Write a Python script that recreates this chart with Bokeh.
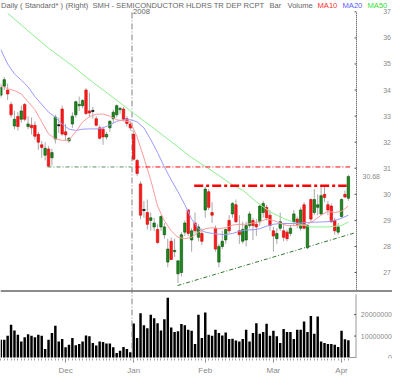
from bokeh.plotting import figure
from bokeh.models import Range1d, FixedTicker
from bokeh.embed import file_html
from bokeh.resources import INLINE
from bokeh.core.properties import value

# ---------------- data ----------------
month_ticks = [19, 39, 60, 80, 100]
month_labels = ["Dec", "Jan", "Feb", "Mar", "Apr"]
year_label = "2008"
year_tick = 38.5
price_ticks = [27, 28, 29, 30, 31, 32, 33, 34, 35, 36, 37]
volume_ticks = [0, 10000000, 20000000]

title_parts = ["Daily ( Standard* )", "(Right)", "SMH - SEMICONDUCTOR HLDRS TR DEP RCPT",
               "Bar", "Volume", "MA10", "MA20", "MA50"]

opens = [33.80, 34.15, 34.00, 33.45, 32.62, 32.99, 32.88, 33.45, 32.60, 32.65,
         32.65, 32.30, 31.90, 31.50, 31.74, 31.40, 32.12, 32.65, 33.27, 32.40,
         32.05, 32.70, 33.05, 33.40, 33.40, 34.00, 33.20, 33.20, 32.90, 32.55,
         32.50, 32.20, 32.55, 32.90, 33.05, 33.25, 33.27, 32.90, 32.70, 32.30,
         31.30, 30.40, 29.40, 29.30, 29.00, 28.75, 28.65, 28.75, 28.45, 27.40,
         28.20, 27.80, 26.95, 27.00, 28.55, 29.40, 28.25, 28.90, 28.35, 28.50,
         29.40, 30.10, 29.30, 28.70, 27.40, 28.00, 28.25, 29.00, 29.25, 29.60,
         28.60, 28.20, 28.25, 28.80, 29.00, 28.85, 28.95, 29.30, 29.50, 29.20,
         28.60, 28.30, 28.70, 28.60, 28.55, 28.50, 28.95, 29.05, 28.70, 29.60,
         27.95, 29.80, 29.30, 29.50, 29.25, 30.00, 29.60, 29.55, 29.00, 28.55,
         29.15, 30.00, 29.85]
highs = [34.25, 34.50, 34.25, 33.55, 33.20, 33.15, 33.40, 33.50, 33.00, 32.95,
         32.80, 32.40, 32.05, 32.00, 31.85, 31.75, 33.05, 32.95, 33.40, 32.70,
         32.20, 33.15, 33.60, 33.75, 33.65, 34.07, 33.90, 33.35, 33.00, 32.65,
         32.60, 32.40, 32.85, 33.25, 33.45, 33.35, 33.35, 33.00, 32.80, 32.45,
         31.36, 30.50, 29.75, 29.80, 29.30, 29.10, 28.85, 29.20, 28.90, 28.30,
         28.35, 28.30, 27.45, 28.55, 29.00, 29.45, 28.70, 29.30, 28.85, 28.70,
         30.30, 30.20, 29.70, 28.80, 28.10, 28.60, 28.70, 29.20, 29.70, 29.80,
         29.20, 28.95, 28.95, 29.35, 29.10, 29.05, 29.60, 29.75, 29.60, 29.40,
         28.75, 28.70, 29.30, 28.90, 28.65, 28.80, 29.40, 29.15, 29.50, 29.70,
         28.85, 29.85, 30.20, 30.00, 30.35, 30.30, 29.75, 29.65, 29.10, 28.90,
         29.85, 30.15, 30.75]
lows = [33.70, 34.00, 33.62, 32.95, 32.50, 32.45, 32.75, 32.80, 32.50, 32.30,
        32.10, 31.70, 31.40, 31.30, 31.05, 31.10, 31.95, 32.35, 32.25, 32.05,
        31.98, 32.55, 32.95, 33.20, 33.30, 33.05, 32.95, 32.90, 32.60, 32.10,
        31.90, 32.10, 32.40, 32.75, 32.95, 33.10, 32.80, 32.60, 32.45, 31.30,
        30.70, 29.05, 29.10, 28.65, 28.60, 28.60, 28.10, 28.60, 28.30, 27.20,
        27.50, 27.60, 26.60, 26.85, 28.40, 28.40, 27.80, 28.50, 28.20, 28.05,
        29.10, 29.40, 28.90, 27.80, 27.20, 27.90, 28.10, 28.50, 29.10, 28.90,
        28.10, 28.10, 28.00, 28.70, 28.25, 28.40, 28.80, 29.10, 29.00, 28.60,
        27.80, 28.10, 28.60, 28.20, 28.20, 28.40, 28.80, 28.70, 28.60, 28.65,
        27.90, 28.90, 29.20, 29.20, 29.20, 29.70, 29.20, 28.90, 28.45, 28.45,
        29.10, 29.85, 29.75]
closes = [34.10, 34.40, 33.85, 33.05, 32.88, 32.60, 33.20, 32.88, 32.70, 32.55,
          32.23, 32.00, 31.80, 31.77, 31.08, 31.60, 32.96, 32.65, 32.31, 32.28,
          32.15, 33.00, 33.55, 33.45, 33.60, 33.10, 33.12, 33.20, 32.65, 32.15,
          32.20, 32.30, 32.80, 33.15, 33.40, 33.30, 32.88, 32.72, 32.55, 31.35,
          30.80, 29.20, 29.40, 28.85, 29.10, 28.90, 28.15, 29.15, 28.75, 27.90,
          27.50, 27.85, 27.45, 28.45, 28.90, 28.50, 28.60, 28.60, 28.75, 28.20,
          30.20, 29.50, 29.20, 27.90, 28.00, 28.20, 28.65, 28.60, 29.65, 28.95,
          28.45, 28.65, 28.80, 29.25, 28.80, 28.75, 29.55, 29.65, 29.10, 28.80,
          28.40, 28.50, 28.95, 28.35, 28.30, 28.70, 29.25, 28.85, 29.40, 28.70,
          28.80, 29.05, 29.80, 29.60, 29.95, 29.88, 29.40, 28.95, 28.60, 28.75,
          29.80, 29.90, 30.68]
volumes_m = [8.3, 8.3, 10.2, 15.3, 12.6, 10.6, 7.5, 9.5, 10.9, 10.2,
             9.4, 10.6, 10.2, 4.0, 8.3, 11.4, 14.8, 7.5, 8.6, 4.8,
             6.0, 9.1, 5.7, 6.3, 7.5, 10.3, 9.9, 6.8, 5.6, 7.5,
             7.2, 6.5, 6.5, 4.8, 2.1, 3.2, 4.9, 4.0, 2.5, 15.9,
             9.1, 20.6, 15.0, 13.7, 19.9, 18.3, 16.0, 12.6, 17.9, 27.9,
             14.0, 11.9, 12.2, 15.6, 15.0, 13.0, 12.5, 6.3, 19.9, 9.1,
             21.0, 10.6, 10.2, 13.0, 11.4, 10.3, 11.7, 8.6, 8.8, 7.9,
             7.5, 8.6, 13.0, 7.5, 11.4, 16.0, 11.1, 11.9, 15.7, 10.2,
             12.5, 9.9, 6.8, 13.3, 11.9, 11.9, 8.6, 13.0, 13.0, 16.8,
             11.9, 19.4, 11.1, 19.1, 7.5, 6.8, 6.3, 6.3, 5.9, 4.9,
             12.5, 8.5, 8.0]

ma10_idx = [0, 2, 4, 6, 8, 10, 12, 14, 16, 18, 20, 22, 24, 26, 28, 30, 32, 34, 36, 38,
            40, 42, 44, 46, 48, 50, 52, 54, 56, 58, 60, 62, 64, 66, 68, 70, 72, 74, 76, 78,
            80, 82, 84, 86, 88, 90, 92, 94, 96, 98, 100, 102]
ma10_val = [34.17, 34.05, 33.98, 33.85, 33.55, 33.25, 32.78, 32.32, 32.13, 32.07,
            32.08, 32.40, 32.78, 32.98, 33.07, 33.08, 33.00, 32.86, 32.82, 32.78,
            32.20, 31.40, 30.55, 29.55, 28.98, 28.60, 28.35, 28.30, 28.35, 28.55,
            28.68, 28.72, 28.68, 28.72, 28.82, 28.85, 28.85, 28.90, 28.95, 29.05,
            29.00, 28.90, 28.80, 28.80, 28.80, 28.85, 29.00, 29.20, 29.35, 29.30,
            29.35, 29.55]
ma20_idx = [0, 2, 4, 6, 8, 10, 12, 14, 16, 18, 20, 22, 24, 26, 28, 30, 32, 34, 36, 38,
            40, 42, 44, 46, 48, 50, 52, 54, 56, 58, 60, 62, 64, 66, 68, 70, 72, 74, 76, 78,
            80, 82, 84, 86, 88, 90, 92, 94, 96, 98, 100, 102]
ma20_val = [35.55, 35.00, 34.62, 34.38, 34.12, 33.75, 33.45, 33.15, 32.96, 32.70,
            32.50, 32.45, 32.50, 32.51, 32.51, 32.55, 32.66, 32.80, 32.86, 32.86,
            32.78, 32.55, 32.10, 31.60, 31.05, 30.55, 30.10, 29.60, 29.05, 28.68,
            28.55, 28.50, 28.47, 28.45, 28.50, 28.58, 28.63, 28.64, 28.68, 28.78,
            28.85, 28.88, 28.88, 28.88, 28.90, 28.92, 28.93, 28.94, 28.95, 29.00,
            29.08, 29.20]
ma50_idx = [2, 8, 14, 20, 27, 34, 39, 44, 50, 56, 62, 68, 71, 75, 79, 83, 87, 91, 96, 100, 102]
ma50_val = [36.95, 36.27, 35.61, 35.03, 34.30, 33.61, 33.11, 32.62, 32.02, 31.41,
            30.90, 30.36, 30.16, 29.71, 29.33, 29.07, 28.88, 28.75, 28.75, 28.80, 28.94]

# drawn support / resistance lines (bar index, price)
green_level_idx = [13.7, 38.3]
green_level_val = [31.05, 31.05]
red_level_idx = [39.5, 102.5]
red_level_val = [31.05, 31.05]
red_thick_idx = [56.75, 101.5]
red_thick_val = [30.33, 30.33]
trend_idx = [51.85, 104.1]
trend_val = [26.50, 28.53]

# ---------------- layout / scales ----------------
W, H = 392, 377
BOTTOM = 18
PX_PER_BAR = 3.407
X0 = -0.1
X1 = X0 + W / PX_PER_BAR
PX_PER_USD = 26.14


def page_to_price(py):
    return 32 + (150.09 - py) / PX_PER_USD


def page_x(px):
    return X0 + (px - 8) / PX_PER_BAR


Y0 = page_to_price(8 + H - BOTTOM)
Y1 = page_to_price(8)
PX_PER_10M = 21.5
VOL0_PAGE = 366.0
V0 = -((8 + H - BOTTOM) - VOL0_PAGE) / PX_PER_10M * 1e7
V1 = V0 + (H - BOTTOM) / PX_PER_10M * 1e7


def page_to_vol(py):
    return (VOL0_PAGE - py) / PX_PER_10M * 1e7


FONT = value("Liberation Sans")

p = figure(width=W, height=H, x_range=Range1d(X0, X1), y_range=Range1d(Y0, Y1),
           output_backend="svg", toolbar_location=None, y_axis_location=None,
           min_border_left=0, min_border_right=0, min_border_top=0,
           min_border_bottom=BOTTOM, outline_line_color=None,
           background_fill_color="white", border_fill_color="white")
p.extra_y_ranges = {"vol": Range1d(V0, V1)}
p.grid.visible = False

# x axis (months)
idx = list(range(len(closes)))
p.xaxis.ticker = FixedTicker(ticks=month_ticks, minor_ticks=idx)
p.xaxis.major_label_overrides = dict(zip(month_ticks, month_labels))
p.xaxis.axis_line_color = None
p.xaxis.major_tick_line_color = "#8a8a8a"
p.xaxis.major_tick_in = 0
p.xaxis.major_tick_out = 4
p.xaxis.minor_tick_line_color = "#a0a0a0"
p.xaxis.minor_tick_in = 0
p.xaxis.minor_tick_out = 2
p.xaxis.major_label_text_color = "#8a8a8a"
p.xaxis.major_label_text_font_size = "8px"
p.xaxis.major_label_text_font = "Liberation Sans"
p.xaxis.major_label_standoff = 3

# volume bars
p.vbar(x=idx, width=0.72, bottom=0, top=[v * 1e6 for v in volumes_m],
       y_range_name="vol", fill_color="#000000", line_color=None)

# separator between panels
p.segment(x0=[X0], x1=[X1], y0=[page_to_price(299.3)], y1=[page_to_price(299.3)],
          line_color="#8c8c8c", line_width=2)

# vertical year line
p.segment(x0=[year_tick], x1=[year_tick], y0=[page_to_price(20)], y1=[page_to_price(367)],
          line_color="#808080", line_width=1, line_dash="6 2 1 2")

# candles
up_fill, up_line = "#1a8a1a", "#0b4d0b"
dn_fill, dn_line = "#ff1a1a", "#d00000"
tops, bots, fills, lines = [], [], [], []
for o, c in zip(opens, closes):
    t, b = max(o, c), min(o, c)
    if t - b < 0.001:
        t, b = o + 0.02, o - 0.02
        fills.append("#000000"); lines.append("#000000")
    elif c > o:
        fills.append(up_fill); lines.append(up_line)
    else:
        fills.append(dn_fill); lines.append(dn_line)
    tops.append(t); bots.append(b)

p.segment(x0=idx, x1=idx, y0=lows, y1=highs, line_color="#a8a8a8", line_width=1)
p.vbar(x=idx, width=0.72, top=tops, bottom=bots, fill_color=fills, line_color=lines,
       line_width=0.6)

# moving averages
p.line(ma50_idx, ma50_val, line_color="#8ef08e", line_width=1)
p.line(ma20_idx, ma20_val, line_color="#9a9aff", line_width=1)
p.line(ma10_idx, ma10_val, line_color="#ff9a9a", line_width=1)

# support / resistance lines
p.line(green_level_idx, green_level_val, line_color="#5f8f5f", line_width=1, line_dash="4 2 1 2")
p.line(red_level_idx, red_level_val, line_color="#ff0000", line_width=1, line_dash="5 2 1 2")
p.line(red_thick_idx, red_thick_val, line_color="#ff0000", line_width=2.6, line_dash="9 3 3 3")
p.line(trend_idx, trend_val, line_color="#2f7a2f", line_width=1, line_dash="4 2 1 2")

# right price axis (drawn)
AX = page_x(364)
n = len(price_ticks)
p.segment(x0=[AX], x1=[AX], y0=[page_to_price(298)], y1=[page_to_price(20)],
          line_color="#333333", line_width=1, line_dash="1 1")
p.segment(x0=[AX - 2 / PX_PER_BAR] * n, x1=[AX] * n, y0=price_ticks, y1=price_ticks,
          line_color="#555555", line_width=1)
p.text(x=[page_x(398.5)] * n, y=price_ticks, text=[str(t) for t in price_ticks],
       text_align="right", text_baseline="middle", text_font_size="7px",
       text_color="#8a8a8a", text_font=FONT)
p.text(x=[page_x(387.5)], y=[closes[-1]], text=[f"{closes[-1]:.2f}"],
       text_align="right", text_baseline="middle", text_font_size="7px",
       text_color="#8a8a8a", text_font=FONT)

# right volume axis (drawn)
VAX = page_x(363.5)
m = len(volume_ticks)
p.segment(x0=[VAX], x1=[VAX], y0=[0], y1=[page_to_vol(303)], y_range_name="vol",
          line_color="#333333", line_width=1, line_dash="1 1")
p.segment(x0=[VAX - 2 / PX_PER_BAR] * m, x1=[VAX] * m, y0=volume_ticks, y1=volume_ticks,
          y_range_name="vol", line_color="#555555", line_width=1)
p.segment(x0=[page_x(355)], x1=[VAX], y0=[0], y1=[0], y_range_name="vol",
          line_color="#999999", line_width=1)
p.text(x=[page_x(399.5)] * m, y=volume_ticks, text=[str(t) for t in volume_ticks],
       y_range_name="vol", text_align="right", text_baseline="middle",
       text_font_size="7px", text_color="#8a8a8a", text_font=FONT)

# header texts
title_px = [8.5, 73, 100, 277, 295, 325, 350, 375]
title_colors = ["#666666"] * 5 + ["#ff3030", "#5a5aff", "#33dd33"]
p.text(x=[page_x(px) for px in title_px], y=[page_to_price(8.0)] * len(title_parts),
       text=title_parts, text_color=title_colors, text_align="left",
       text_baseline="top", text_font_size="7.6px", text_font=FONT)
p.text(x=[page_x(140.5)], y=[page_to_price(17.0)], text=[year_label],
       text_color="#666666", text_align="left", text_baseline="top",
       text_font_size="7.6px", text_font=FONT)

open("out.html", "w").write(file_html(p, INLINE))
